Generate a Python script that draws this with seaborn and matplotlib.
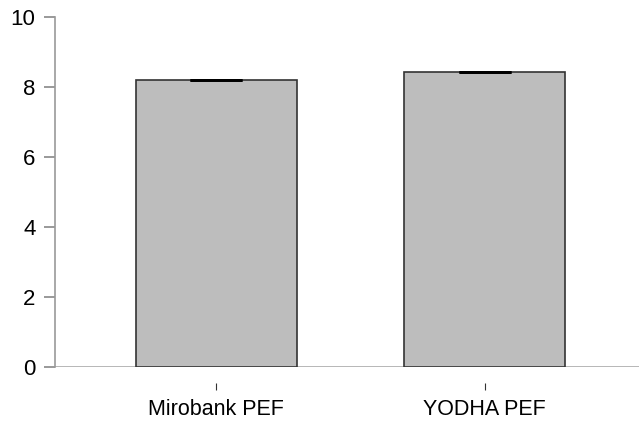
import matplotlib
matplotlib.use("Agg")
import matplotlib.pyplot as plt
import seaborn as sns
import pandas as pd

sns.set_style("white")
plt.rcParams['font.family'] = ['Liberation Sans', 'DejaVu Sans']

devices = ["Mirobank PEF", "YODHA PEF"]
means = [8.20, 8.43]
errors = [0.01, 0.01]

df = pd.DataFrame({"device": devices, "pef": means})

fig = plt.figure(figsize=(6.39, 4.28), dpi=100)
ax = fig.add_axes([55 / 639, 61 / 428, 1 - 55 / 639, 350 / 428])

sns.barplot(data=df, x="device", y="pef", color="#bdbdbd", saturation=1,
            edgecolor="#333333", linewidth=1.2, width=0.6, errorbar=None, ax=ax)
ax.errorbar(range(len(devices)), means, yerr=errors, fmt="none",
            ecolor="black", elinewidth=2, capsize=19, capthick=2)

ax.set_ylim(0, 10)
ax.set_xlim(-0.6, 1.575)
ax.set_yticks([0, 2, 4, 6, 8, 10])
ax.axhline(0, color="#aaaaaa", lw=1.2, zorder=0.5)

for s in ["top", "right", "bottom"]:
    ax.spines[s].set_visible(False)
ax.spines["left"].set_color("#999999")
ax.spines["left"].set_linewidth(1.2)
ax.spines["bottom"].set_position(("outward", 11.5))

ax.tick_params(axis="y", length=8, width=1.2, color="#888888", labelsize=16,
               labelcolor="black", pad=6, left=True)
ax.tick_params(axis="x", length=5, width=0.8, color="#333333", labelsize=15.5,
               labelcolor="black", pad=6.5, bottom=True)
ax.set_xlabel("")
ax.set_ylabel("")

fig.savefig("out.png", dpi=100)
